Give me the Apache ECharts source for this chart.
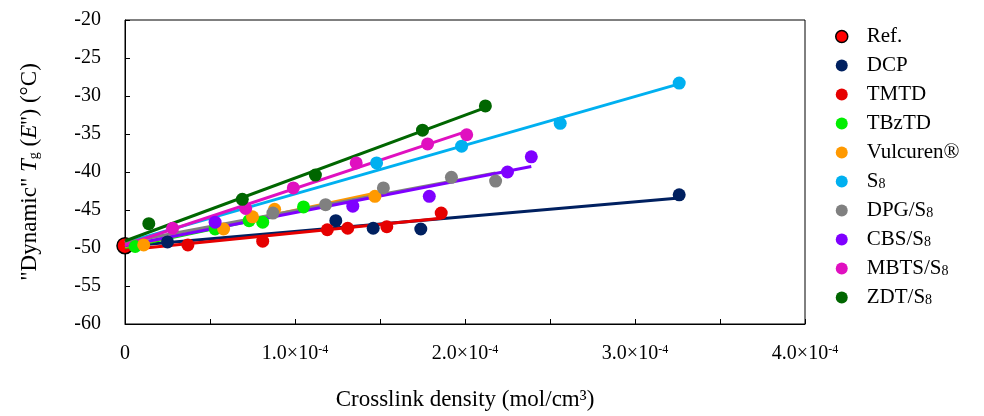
<!DOCTYPE html>
<html><head><meta charset="utf-8">
<script src="https://cdn.jsdelivr.net/npm/echarts@6/dist/echarts.min.js"></script>
<style>html,body{margin:0;padding:0;background:#fff}#c{width:984px;height:416px}</style>
</head><body><div id="c"></div>
<script>
// Data (x: crosslink density mol/cm3, y: dynamic Tg in °C)
const seriesNames = ['Ref.', 'DCP', 'TMTD', 'TBzTD', 'Vulcuren®', 'S8', 'DPG/S8', 'CBS/S8', 'MBTS/S8', 'ZDT/S8'];
const legendLabels = ['Ref.', 'DCP', 'TMTD', 'TBzTD', 'Vulcuren®', 'S{s|8}', 'DPG/S{s|8}', 'CBS/S{s|8}', 'MBTS/S{s|8}', 'ZDT/S{s|8}'];
const refX = [0];
const refY = [-49.7];
const dcpX = [0.25e-4, 1.24e-4, 1.46e-4, 1.74e-4, 3.26e-4];
const dcpY = [-49.2, -46.4, -47.4, -47.5, -43.0];
const tmtdX = [0.37e-4, 0.81e-4, 1.19e-4, 1.31e-4, 1.54e-4, 1.86e-4];
const tmtdY = [-49.6, -49.1, -47.6, -47.4, -47.2, -45.4];
const tbztdX = [0.06e-4, 0.53e-4, 0.73e-4, 0.81e-4, 1.05e-4];
const tbztdY = [-49.8, -47.5, -46.4, -46.6, -44.6];
const vulX = [0.11e-4, 0.58e-4, 0.75e-4, 0.88e-4, 1.47e-4];
const vulY = [-49.6, -47.5, -45.9, -44.9, -43.2];
const s8X = [1.48e-4, 1.98e-4, 2.56e-4, 3.26e-4];
const s8Y = [-38.8, -36.6, -33.6, -28.3];
const dpgX = [0.87e-4, 1.18e-4, 1.52e-4, 1.92e-4, 2.18e-4];
const dpgY = [-45.4, -44.3, -42.1, -40.7, -41.2];
const cbsX = [0.53e-4, 1.34e-4, 1.79e-4, 2.25e-4, 2.39e-4];
const cbsY = [-46.6, -44.5, -43.2, -40.0, -38.0];
const mbtsX = [0.28e-4, 0.71e-4, 0.99e-4, 1.36e-4, 1.78e-4, 2.01e-4];
const mbtsY = [-47.4, -44.8, -42.1, -38.8, -36.3, -35.1];
const zdtX = [0.14e-4, 0.69e-4, 1.12e-4, 1.75e-4, 2.12e-4];
const zdtY = [-46.8, -43.6, -40.4, -34.5, -31.3];
const yTicks = [-60, -55, -50, -45, -40, -35, -30, -25, -20];
const xTicks = [0, 1e-4, 2e-4, 3e-4, 4e-4];

const colors = ['#ff0000', '#002060', '#e60000', '#00ee00', '#ff9900', '#00b0f0', '#808080', '#7f00ff', '#e010c0', '#006600'];
const xs = [refX, dcpX, tmtdX, tbztdX, vulX, s8X, dpgX, cbsX, mbtsX, zdtX];
const ys = [refY, dcpY, tmtdY, tbztdY, vulY, s8Y, dpgY, cbsY, mbtsY, zdtY];

function fit(x, y) {
  // linear trend including the reference point
  const X = refX.concat(x), Y = refY.concat(y);
  const n = X.length;
  const mx = X.reduce((a, b) => a + b, 0) / n, my = Y.reduce((a, b) => a + b, 0) / n;
  let sxy = 0, sxx = 0;
  for (let i = 0; i < n; i++) { sxy += (X[i] - mx) * (Y[i] - my); sxx += (X[i] - mx) ** 2; }
  const k = sxy / sxx, b = my - k * mx;
  const xmax = Math.max(...x);
  return [[0, b], [xmax, b + k * xmax]];
}

const FONT = 'Liberation Serif';
const series = [];
for (let i = 1; i < seriesNames.length; i++) {
  series.push({
    type: 'line', name: seriesNames[i] + ' trend', data: fit(xs[i], ys[i]),
    showSymbol: false, symbol: 'none', lineStyle: { color: colors[i], width: 3 },
    itemStyle: { color: colors[i] }, z: 3, silent: true, animation: false
  });
}
for (let i = 0; i < seriesNames.length; i++) {
  series.push({
    type: 'scatter', name: seriesNames[i],
    data: xs[i].map((v, j) => [v, ys[i][j]]),
    symbolSize: i === 0 ? 16 : 13,
    itemStyle: i === 0 ? { color: colors[i], borderColor: '#000', borderWidth: 1.5, opacity: 1 } : { color: colors[i], opacity: 1 },
    z: i === 0 ? 2 : 4, animation: false
  });
}

const chart = echarts.init(document.getElementById('c'), null, { renderer: 'canvas' });
chart.setOption({
  backgroundColor: '#fff',
  animation: false,
  grid: { left: 125, right: 179, top: 20, bottom: 92, show: true, borderColor: '#000', borderWidth: 1 },
  xAxis: {
    type: 'value', min: xTicks[0], max: xTicks[xTicks.length - 1], interval: 0.5e-4,
    axisLine: { show: true, lineStyle: { color: '#000', width: 1 } },
    axisTick: { show: true, inside: true, length: 5, lineStyle: { color: '#000' } },
    splitLine: { show: false },
    axisLabel: {
      margin: 20, color: '#000', fontFamily: FONT, fontSize: 20,
      formatter: v => {
        const k = Math.round(v / 1e-5);
        if (k % 10 !== 0) return '';
        if (k === 0) return '0';
        return (k / 10).toFixed(1) + '×10{sup|-4}';
      },
      rich: { sup: { fontFamily: FONT, fontSize: 12, verticalAlign: 'top', padding: [0, 0, 8, 0], color: '#000' } }
    },
    name: 'Crosslink density (mol/cm³)', nameLocation: 'middle', nameGap: 64,
    nameTextStyle: { color: '#000', fontFamily: FONT, fontSize: 23 }
  },
  yAxis: {
    type: 'value', min: yTicks[0], max: yTicks[yTicks.length - 1], interval: 5,
    axisLine: { show: true, lineStyle: { color: '#000', width: 1 } },
    axisTick: { show: true, inside: true, length: 5, lineStyle: { color: '#000' } },
    splitLine: { show: false },
    axisLabel: { margin: 24, color: '#000', fontFamily: FONT, fontSize: 20 },
    name: '"Dynamic" {it|T}{sub|g} ({it|E}\'\') (°C)', nameLocation: 'middle', nameGap: 84, nameRotate: 90,
    nameTextStyle: {
      color: '#000', fontFamily: FONT, fontSize: 23,
      rich: {
        it: { fontFamily: FONT, fontSize: 23, fontStyle: 'italic', color: '#000' },
        sub: { fontFamily: FONT, fontSize: 14, verticalAlign: 'bottom', padding: [9, 0, 0, 0], color: '#000' }
      }
    }
  },
  legend: {
    orient: 'vertical', left: 830, top: 21, itemWidth: 12, itemHeight: 12, itemGap: 8,
    icon: 'circle',
    data: seriesNames.map((n, i) => ({ name: n, itemStyle: i === 0 ? { borderColor: '#000', borderWidth: 1.5 } : { borderWidth: 0 } })),
    formatter: name => legendLabels[seriesNames.indexOf(name)],
    textStyle: {
      color: '#000', fontFamily: FONT, fontSize: 21, lineHeight: 20, padding: [0, 0, 0, 14],
      rich: { s: { fontFamily: FONT, fontSize: 14, verticalAlign: 'bottom', padding: [6, 0, 0, 0], color: '#000' } }
    }
  },
  series: series
});
</script></body></html>
